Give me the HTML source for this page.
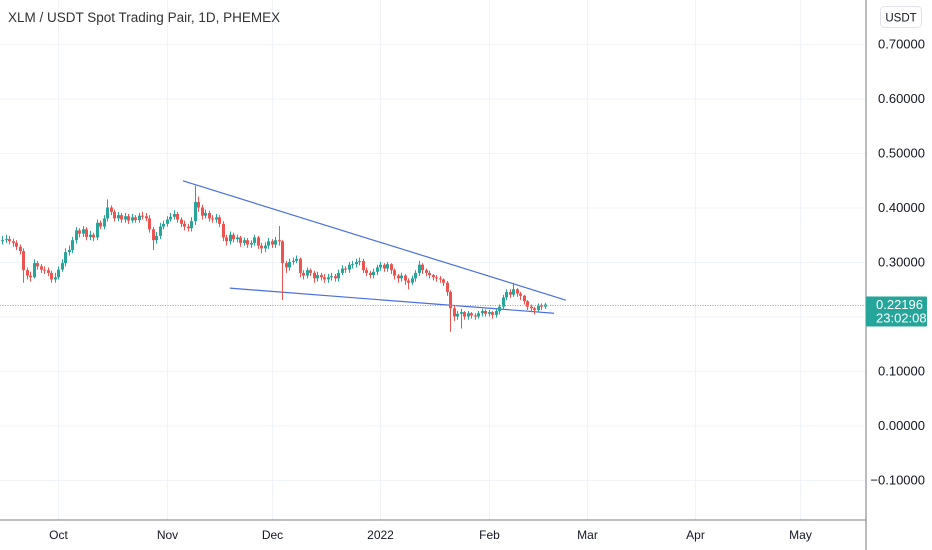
<!DOCTYPE html>
<html><head><meta charset="utf-8"><style>
body{margin:0;background:#fff;}
svg{display:block;font-family:"Liberation Sans",sans-serif;}
</style></head><body>
<svg id="chart" width="932" height="550">
<g id="grid"></g>
<g id="lines"></g>
<g id="candles"></g>
<line x1="866" y1="0" x2="866" y2="550" stroke="#787b86" stroke-width="1"/>
<line x1="0" y1="520" x2="866" y2="520" stroke="#787b86" stroke-width="1"/>
<g id="yticks"></g>
<g id="xticks"></g>
<text x="8" y="22" font-size="13.5" fill="#333">XLM / USDT Spot Trading Pair, 1D, PHEMEX</text>
<rect x="880.5" y="6.5" width="41" height="21" rx="4" fill="#fff" stroke="#e0e3eb"/>
<text x="901" y="21.5" font-size="11.5" fill="#131722" text-anchor="middle">USDT</text>
<g id="last"></g>
</svg>
<script>
const closes=[.340,.342,.338,.335,.328,.320,.285,.275,.272,.298,.292,.286,.285,.280,.268,.272,.286,.298,.318,.322,.340,.358,.352,.360,.346,.350,.345,.372,.365,.380,.400,.392,.380,.386,.378,.384,.376,.382,.377,.385,.384,.380,.360,.340,.348,.365,.370,.378,.383,.388,.378,.370,.365,.362,.375,.410,.400,.385,.390,.380,.378,.382,.370,.345,.338,.350,.342,.345,.335,.340,.332,.335,.345,.330,.325,.330,.338,.332,.340,.338,.298,.290,.300,.302,.306,.280,.275,.285,.280,.270,.276,.272,.268,.272,.274,.270,.280,.288,.286,.295,.296,.300,.302,.285,.280,.276,.282,.290,.295,.288,.296,.285,.275,.270,.275,.266,.262,.270,.280,.295,.285,.280,.276,.272,.270,.268,.262,.245,.215,.200,.205,.208,.200,.206,.202,.200,.206,.210,.205,.208,.203,.210,.218,.235,.245,.240,.250,.242,.238,.228,.218,.215,.212,.220,.218,.222];
const highs=[.348,.350,.348,.343,.340,.332,.325,.290,.282,.305,.302,.296,.292,.290,.284,.280,.292,.305,.325,.330,.346,.364,.362,.366,.364,.357,.354,.378,.376,.386,.415,.404,.396,.392,.390,.390,.388,.388,.386,.390,.392,.390,.386,.364,.355,.372,.376,.384,.390,.395,.392,.382,.376,.370,.382,.440,.420,.405,.396,.394,.386,.388,.386,.375,.350,.356,.354,.350,.348,.345,.344,.340,.350,.348,.335,.336,.344,.342,.346,.366,.340,.302,.306,.308,.312,.308,.285,.290,.288,.284,.282,.280,.278,.278,.280,.278,.286,.294,.292,.300,.302,.306,.308,.306,.290,.284,.288,.295,.300,.298,.300,.298,.288,.278,.280,.278,.270,.275,.285,.302,.298,.288,.284,.278,.276,.274,.270,.265,.248,.220,.210,.214,.210,.210,.208,.206,.210,.214,.213,.212,.210,.214,.222,.240,.250,.250,.262,.252,.245,.240,.230,.222,.218,.224,.224,.225];
const lows=[.332,.335,.332,.328,.322,.314,.262,.268,.264,.270,.286,.280,.278,.274,.262,.262,.268,.282,.292,.312,.316,.334,.345,.346,.340,.340,.338,.340,.360,.360,.374,.386,.374,.375,.372,.372,.370,.372,.372,.372,.378,.375,.354,.322,.334,.342,.360,.365,.374,.378,.372,.364,.358,.356,.356,.368,.392,.378,.380,.374,.372,.372,.364,.338,.330,.332,.336,.336,.328,.330,.326,.326,.330,.324,.316,.318,.324,.326,.326,.330,.230,.280,.284,.295,.298,.272,.268,.270,.274,.262,.264,.266,.262,.262,.266,.264,.264,.276,.280,.280,.288,.290,.294,.280,.274,.270,.270,.276,.284,.282,.282,.278,.268,.262,.264,.258,.250,.258,.264,.274,.278,.274,.270,.266,.264,.262,.256,.238,.172,.192,.194,.178,.194,.194,.196,.194,.196,.200,.200,.200,.196,.198,.204,.212,.230,.234,.236,.236,.230,.222,.212,.208,.204,.208,.212,.214];
const firstOpen=.338;
const yTicks=[0.7,0.6,0.5,0.4,0.3,0.2,0.1,0,-0.1];
const yTickLabels=["0.70000","0.60000","0.50000","0.40000","0.30000","","0.10000","0.00000","\u22120.10000"];
const xTickDays=[16,47,77,108,139,167,198,228];
const xTickLabels=["Oct","Nov","Dec","2022","Feb","Mar","Apr","May"];
const upperTrend=[[51.7,0.449],[161.1,0.230]];
const lowerTrend=[[65.1,0.252],[157.7,0.206]];
const lastPrice=0.22196;
const lastTime="23:02:08";

const NS="http://www.w3.org/2000/svg";
const X=i=>2+3.5*i;
const Y=v=>44+(0.7-v)*545;
function mk(tag,attrs,parent){const e=document.createElementNS(NS,tag);for(const k in attrs)e.setAttribute(k,attrs[k]);parent.appendChild(e);return e;}
const grid=document.getElementById('grid'),yt=document.getElementById('yticks'),xt=document.getElementById('xticks');
yTicks.forEach((v,k)=>{
 const l=mk('line',{x1:0,x2:866,y1:Y(v)+.5,y2:Y(v)+.5,stroke:'#f0f3fa'},grid);
 
 
 const t=mk('text',{x:925,y:Y(v)+4.5,'font-size':13,fill:'#131722','text-anchor':'end'},yt);
 t.textContent=yTickLabels[k];
 
 
});
xTickDays.forEach((d,k)=>{
 const x=Math.round(X(d))+.5;
 const l=mk('line',{x1:x,x2:x,y1:0,y2:520,stroke:'#f0f3fa'},grid);
 
 
 const t=mk('text',{x:x,y:539,'font-size':12,fill:'#131722','text-anchor':'middle'},xt);
 t.textContent=xTickLabels[k];
 
 
});
const lg=document.getElementById('lines');
[upperTrend,lowerTrend].forEach(p=>{
 const l=mk('line',{x1:X(p[0][0]),y1:Y(p[0][1]),x2:X(p[1][0]),y2:Y(p[1][1]),stroke:'#4a6fe0','stroke-width':1.2},lg);
 
 
});
const cg=document.getElementById('candles');
closes.forEach((c,i)=>{
 const o=i===0?firstOpen:closes[i-1];
 const col=c>=o?'#26a69a':'#ef5350';
 const x=Math.round(X(i));
 const g=mk('g',{},cg);
 
 
 mk('line',{x1:x+.5,x2:x+.5,y1:Y(highs[i]),y2:Y(lows[i]),stroke:col,'stroke-width':1},g);
 const top=Y(Math.max(o,c)),bot=Y(Math.min(o,c));
 mk('rect',{x:x-1,y:top,width:3,height:Math.max(1,bot-top),fill:col},g);
});
const lastG=document.getElementById('last');
const ly=Math.round(Y(lastPrice))+.5;
const pl=mk('line',{x1:0,x2:866,y1:ly,y2:ly,stroke:'#5fbfb3','stroke-dasharray':'1 1.5'},lastG);


const box=mk('rect',{x:866,y:ly-9,width:61,height:30,fill:'#26a69a',rx:1},lastG);


const t1=mk('text',{x:876,y:ly+3.5,'font-size':13,fill:'#fff'},lastG);
t1.textContent=lastPrice.toFixed(5);


const t2=mk('text',{x:876,y:ly+17,'font-size':13,fill:'#fff'},lastG);
t2.textContent=lastTime;


</script>
</body></html>
